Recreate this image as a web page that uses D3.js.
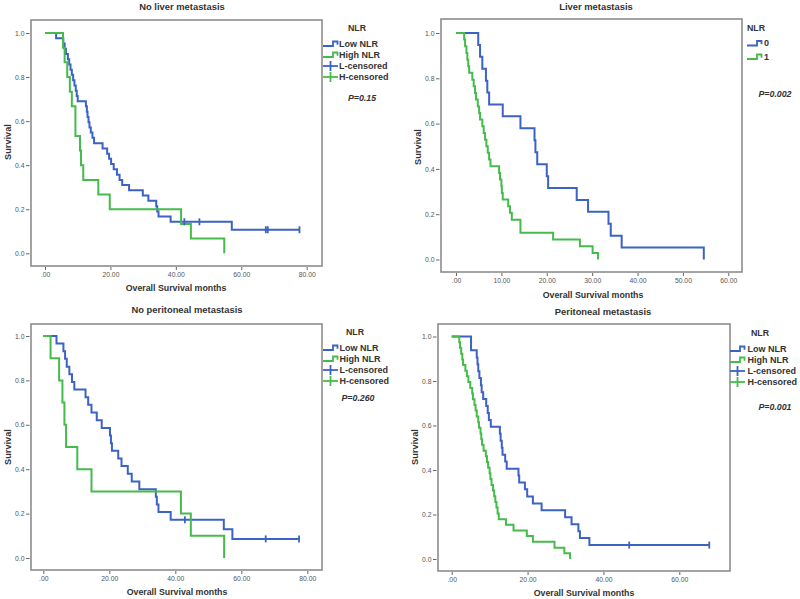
<!DOCTYPE html>
<html>
<head>
<meta charset="utf-8">
<script src="https://cdn.jsdelivr.net/npm/d3@7"></script>
<style>
  html, body { margin: 0; padding: 0; background: #fff; }
  svg { display: block; font-family: "Liberation Sans", Arial, sans-serif; }
</style>
</head>
<body>
<svg id="chart" width="800" height="599"></svg>
<script>
// ---------------- DATA ----------------
const panelTitles = ["No liver metastasis", "Liver metastasis", "No peritoneal metastasis", "Peritoneal metastasis"];
const legendTitle = "NLR";
const legendLabelsFull = ["Low NLR", "High NLR", "L-censored", "H-censored"];
const legendLabelsShort = ["0", "1"];
const pValues = ["P=0.15", "P=0.002", "P=0.260", "P=0.001"];
const xAxisTitle = "Overall Survival months";
const yAxisTitle = "Survival";
const yTicks = [0, 0.2, 0.4, 0.6, 0.8, 1.0];
const xTicks80 = [0, 20, 40, 60, 80];
const xTicks60by10 = [0, 10, 20, 30, 40, 50, 60];
const xTicks60by20 = [0, 20, 40, 60];

// Panel 1: No liver metastasis
const p1LowT = [0, 3.4, 5.6, 6.0, 6.4, 7.0, 7.4, 7.8, 8.2, 8.6, 9.0, 9.4, 9.7, 10.0, 12.5, 12.8, 13.0, 13.3, 13.6, 14.0, 14.5, 15.0, 17.6, 19.0, 19.6, 20.2, 21.0, 22.0, 22.8, 23.6, 25.7, 29.9, 31.6, 34.0, 34.3, 34.7, 38.4, 57.1, 77.8];
const p1LowS = [1.0, 0.976, 0.952, 0.929, 0.905, 0.881, 0.857, 0.833, 0.810, 0.786, 0.762, 0.738, 0.714, 0.690, 0.667, 0.643, 0.619, 0.595, 0.571, 0.548, 0.524, 0.500, 0.476, 0.452, 0.429, 0.405, 0.381, 0.357, 0.333, 0.310, 0.286, 0.262, 0.238, 0.214, 0.190, 0.167, 0.143, 0.107, 0.107];
const p1LowCensT = [42.6, 47.2, 67.5, 68.1, 77.8];
const p1LowCensS = [0.143, 0.143, 0.107, 0.107, 0.107];
const p1HighT = [0, 5.5, 6.0, 6.8, 7.6, 8.2, 9.3, 10.7, 11.0, 11.7, 16.3, 19.8, 41.6, 44.6, 54.8];
const p1HighS = [1.0, 0.933, 0.867, 0.800, 0.733, 0.667, 0.533, 0.467, 0.400, 0.333, 0.267, 0.200, 0.133, 0.067, 0.0];

// Panel 2: Liver metastasis
const p2LowT = [0, 4.9, 5.3, 5.8, 6.6, 6.9, 7.3, 10.3, 14.2, 17.3, 17.5, 17.9, 20.0, 20.3, 26.6, 29.1, 33.6, 34.1, 36.5, 54.6];
const p2LowS = [1.0, 0.947, 0.895, 0.842, 0.789, 0.737, 0.684, 0.632, 0.579, 0.526, 0.474, 0.421, 0.368, 0.316, 0.263, 0.211, 0.158, 0.105, 0.053, 0.0];
const p2HighT = [0, 1.8, 2.0, 2.3, 2.5, 2.7, 2.9, 3.6, 3.9, 4.2, 4.4, 4.8, 5.1, 5.3, 5.8, 6.1, 6.4, 6.7, 7.0, 7.3, 7.6, 9.5, 9.7, 10.0, 10.1, 10.3, 11.5, 11.9, 12.3, 14.2, 21.4, 27.3, 30.1, 31.3];
const p2HighS = [1.0, 0.971, 0.941, 0.912, 0.882, 0.853, 0.824, 0.794, 0.765, 0.735, 0.706, 0.676, 0.647, 0.618, 0.588, 0.559, 0.529, 0.500, 0.471, 0.441, 0.412, 0.382, 0.353, 0.324, 0.294, 0.265, 0.235, 0.206, 0.176, 0.118, 0.088, 0.059, 0.029, 0.0];

// Panel 3: No peritoneal metastasis
const p3LowT = [0, 4.0, 6.1, 6.6, 7.1, 7.9, 8.7, 9.4, 12.8, 13.6, 14.6, 16.2, 17.7, 20.2, 20.5, 20.8, 22.7, 23.7, 25.6, 26.8, 29.1, 34.1, 34.4, 34.9, 38.6, 54.7, 57.3, 77.5];
const p3LowS = [1.0, 0.966, 0.931, 0.897, 0.862, 0.828, 0.793, 0.759, 0.724, 0.690, 0.655, 0.621, 0.586, 0.552, 0.517, 0.483, 0.448, 0.414, 0.379, 0.345, 0.310, 0.276, 0.241, 0.207, 0.172, 0.129, 0.086, 0.086];
const p3LowCensT = [42.9, 67.4, 77.5];
const p3LowCensS = [0.172, 0.086, 0.086];
const p3HighT = [0, 2.2, 4.8, 5.8, 6.4, 6.9, 10.3, 14.6, 41.7, 44.7, 54.8];
const p3HighS = [1.0, 0.9, 0.8, 0.7, 0.6, 0.5, 0.4, 0.3, 0.2, 0.1, 0.0];

// Panel 4: Peritoneal metastasis
const p4LowT = [0, 5.1, 6.6, 6.8, 7.0, 7.3, 7.7, 7.9, 8.3, 9.1, 9.5, 9.8, 10.3, 12.7, 12.9, 13.2, 13.4, 14.1, 14.5, 17.6, 17.8, 19.3, 19.9, 21.4, 23.7, 29.9, 31.6, 33.4, 33.8, 36.3, 67.9];
const p4LowS = [1.0, 0.938, 0.906, 0.875, 0.844, 0.813, 0.781, 0.750, 0.719, 0.688, 0.656, 0.625, 0.594, 0.563, 0.531, 0.500, 0.469, 0.438, 0.406, 0.375, 0.344, 0.313, 0.281, 0.250, 0.219, 0.188, 0.156, 0.125, 0.094, 0.0625, 0.0625];
const p4LowCensT = [46.8, 67.9];
const p4LowCensS = [0.0625, 0.0625];
const p4HighT = [0, 2.0, 2.2, 2.5, 2.8, 3.0, 3.6, 4.0, 4.4, 4.9, 5.4, 5.6, 6.0, 6.3, 6.6, 7.0, 7.2, 7.6, 7.8, 8.0, 8.4, 9.0, 9.3, 9.6, 10.0, 10.2, 10.5, 10.9, 11.2, 11.5, 11.8, 12.1, 12.4, 14.3, 16.3, 19.8, 21.4, 27.1, 29.7, 31.2];
const p4HighS = [1.0, 0.974, 0.949, 0.923, 0.897, 0.872, 0.846, 0.821, 0.795, 0.769, 0.744, 0.718, 0.692, 0.667, 0.641, 0.615, 0.590, 0.564, 0.538, 0.513, 0.487, 0.462, 0.436, 0.410, 0.385, 0.359, 0.333, 0.308, 0.282, 0.256, 0.231, 0.205, 0.179, 0.154, 0.128, 0.103, 0.077, 0.051, 0.026, 0.0];

// ---------------- STYLE ----------------
const BLUE = "#3b62c4";
const GREEN = "#45bb4c";
const BOX = "#8c8c8c";
const TEXT = "#333";

const svg = d3.select("#chart");

const panels = [
  { box: [31, 322, 20, 266], xd: [0, 80], xr: [45, 306.7], yr: [253.3, 33], xticks: xTicks80,
    title: [182, 8], ylab: [9, 142], xlab: [176, 289], tickY: 274,
    leg: { nlr: [357, 29], rows: [44, 55, 66, 77], sx: 323, tx: 339, labels: legendLabelsFull, p: [362, 99] },
    low: [p1LowT, p1LowS], high: [p1HighT, p1HighS], cens: [p1LowCensT, p1LowCensS] },
  { box: [441, 742, 19, 272], xd: [0, 60], xr: [456, 728.3], yr: [259.5, 33], xticks: xTicks60by10,
    title: [596, 8], ylab: [419, 147], xlab: [593, 296], tickY: 281,
    leg: { nlr: [756, 29], rows: [43.5, 57], sx: 747, tx: 764, labels: legendLabelsShort, p: [775, 95] },
    low: [p2LowT, p2LowS], high: [p2HighT, p2HighS], cens: null },
  { box: [31, 322, 324, 570], xd: [0, 80], xr: [43.3, 307.3], yr: [558, 336], xticks: xTicks80,
    title: [187, 311], ylab: [9, 447], xlab: [177, 593], tickY: 579,
    leg: { nlr: [355, 333], rows: [348, 359, 370, 381], sx: 323, tx: 339.5, labels: legendLabelsFull, p: [358, 399] },
    low: [p3LowT, p3LowS], high: [p3HighT, p3HighS], cens: [p3LowCensT, p3LowCensS] },
  { box: [438, 730, 324, 571], xd: [0, 60], xr: [451.7, 679.3], yr: [559, 336.5], xticks: xTicks60by20,
    title: [603, 313], ylab: [416, 447], xlab: [584, 594], tickY: 580,
    leg: { nlr: [760, 334], rows: [349, 360, 371, 382], sx: 730, tx: 747.5, labels: legendLabelsFull, p: [775, 408] },
    low: [p4LowT, p4LowS], high: [p4HighT, p4HighS], cens: [p4LowCensT, p4LowCensS] }
];

const fmtX = v => v === 0 ? ".00" : v.toFixed(2);

panels.forEach((P, i) => {
  const g = svg.append("g");
  const [x0, x1, y0, y1] = P.box;
  const x = d3.scaleLinear().domain(P.xd).range(P.xr);
  const y = d3.scaleLinear().domain([0, 1]).range(P.yr);

  // frame
  g.append("rect").attr("x", x0).attr("y", y0).attr("width", x1 - x0).attr("height", y1 - y0)
    .attr("fill", "none").attr("stroke", BOX).attr("stroke-width", 1.6);

  // y axis
  const yAxis = d3.axisLeft(y).tickValues(yTicks).tickFormat(d3.format(".1f")).tickSize(3.5).tickPadding(1.5);
  const ya = g.append("g").attr("transform", `translate(${x0 - 1.5},0)`).call(yAxis);
  ya.select(".domain").remove();
  ya.selectAll("line").attr("stroke", "#666").attr("stroke-width", 1);
  ya.selectAll("text").attr("fill", "#555").style("font-size", "6.8px").attr("font-family", "Liberation Sans, Arial, sans-serif");

  // x axis
  const xAxis = d3.axisBottom(x).tickValues(P.xticks).tickFormat(fmtX).tickSize(3).tickPadding(2.5);
  const xa = g.append("g").attr("transform", `translate(0,${y1 + 1})`).call(xAxis);
  xa.select(".domain").remove();
  xa.selectAll("line").attr("stroke", "#666").attr("stroke-width", 1);
  xa.selectAll("text").attr("fill", "#555").style("font-size", "6.8px").attr("font-family", "Liberation Sans, Arial, sans-serif");

  // titles
  g.append("text").attr("x", P.title[0]).attr("y", P.title[1]).attr("text-anchor", "middle")
    .attr("dominant-baseline", "middle").attr("font-weight", "bold").attr("font-size", 9.4)
    .attr("fill", TEXT).text(panelTitles[i]);
  g.append("text").attr("x", P.xlab[0]).attr("y", P.xlab[1]).attr("text-anchor", "middle")
    .attr("dominant-baseline", "middle").attr("font-weight", "bold").attr("font-size", 8.8)
    .attr("fill", TEXT).text(xAxisTitle);
  g.append("text").attr("transform", `translate(${P.ylab[0]},${P.ylab[1]}) rotate(-90)`)
    .attr("text-anchor", "middle").attr("dominant-baseline", "middle").attr("font-weight", "bold")
    .attr("font-size", 9.2).attr("fill", TEXT).text(yAxisTitle);

  // curves
  const line = d3.line().x(d => x(d[0])).y(d => y(d[1])).curve(d3.curveStepAfter);
  const lowPts = P.low[0].map((t, k) => [t, P.low[1][k]]);
  const highPts = P.high[0].map((t, k) => [t, P.high[1][k]]);
  g.append("path").attr("d", line(lowPts)).attr("fill", "none").attr("stroke", BLUE).attr("stroke-width", 2);
  g.append("path").attr("d", line(highPts)).attr("fill", "none").attr("stroke", GREEN).attr("stroke-width", 2);

  // censor marks
  if (P.cens) {
    const cPts = P.cens[0].map((t, k) => [t, P.cens[1][k]]);
    g.selectAll(".cens").data(cPts).enter().append("line")
      .attr("x1", d => x(d[0])).attr("x2", d => x(d[0]))
      .attr("y1", d => y(d[1]) - 3.5).attr("y2", d => y(d[1]) + 3.5)
      .attr("stroke", BLUE).attr("stroke-width", 1.8);
  }

  // legend
  const L = P.leg;
  g.append("text").attr("x", L.nlr[0]).attr("y", L.nlr[1]).attr("text-anchor", "middle")
    .attr("dominant-baseline", "middle").attr("font-weight", "bold").attr("font-size", 8.8)
    .attr("fill", TEXT).text(legendTitle);
  L.labels.forEach((lab, k) => {
    const ry = L.rows[k];
    const col = (k % 2 === 0) ? BLUE : GREEN;
    const sx = L.sx;
    if (k < 2) {
      g.append("path").attr("d", `M${sx},${ry + 2}H${sx + 10}V${ry - 2.5}H${sx + 14.5}V${ry + 0.8}`)
        .attr("fill", "none").attr("stroke", col).attr("stroke-width", 1.8);
    } else {
      g.append("line").attr("x1", sx).attr("x2", sx + 15).attr("y1", ry).attr("y2", ry)
        .attr("stroke", col).attr("stroke-width", 1.8);
      g.append("line").attr("x1", sx + 7.5).attr("x2", sx + 7.5).attr("y1", ry - 5).attr("y2", ry + 5)
        .attr("stroke", col).attr("stroke-width", 1.8);
    }
    g.append("text").attr("x", L.tx).attr("y", ry + 0.5).attr("dominant-baseline", "middle")
      .attr("font-weight", "bold").attr("font-size", 9).attr("fill", TEXT).text(lab);
  });
  g.append("text").attr("x", L.p[0]).attr("y", L.p[1]).attr("text-anchor", "middle")
    .attr("dominant-baseline", "middle").attr("font-weight", "bold").attr("font-style", "italic")
    .attr("font-size", 8.8).attr("fill", TEXT).text(pValues[i]);
});
</script>
</body>
</html>
